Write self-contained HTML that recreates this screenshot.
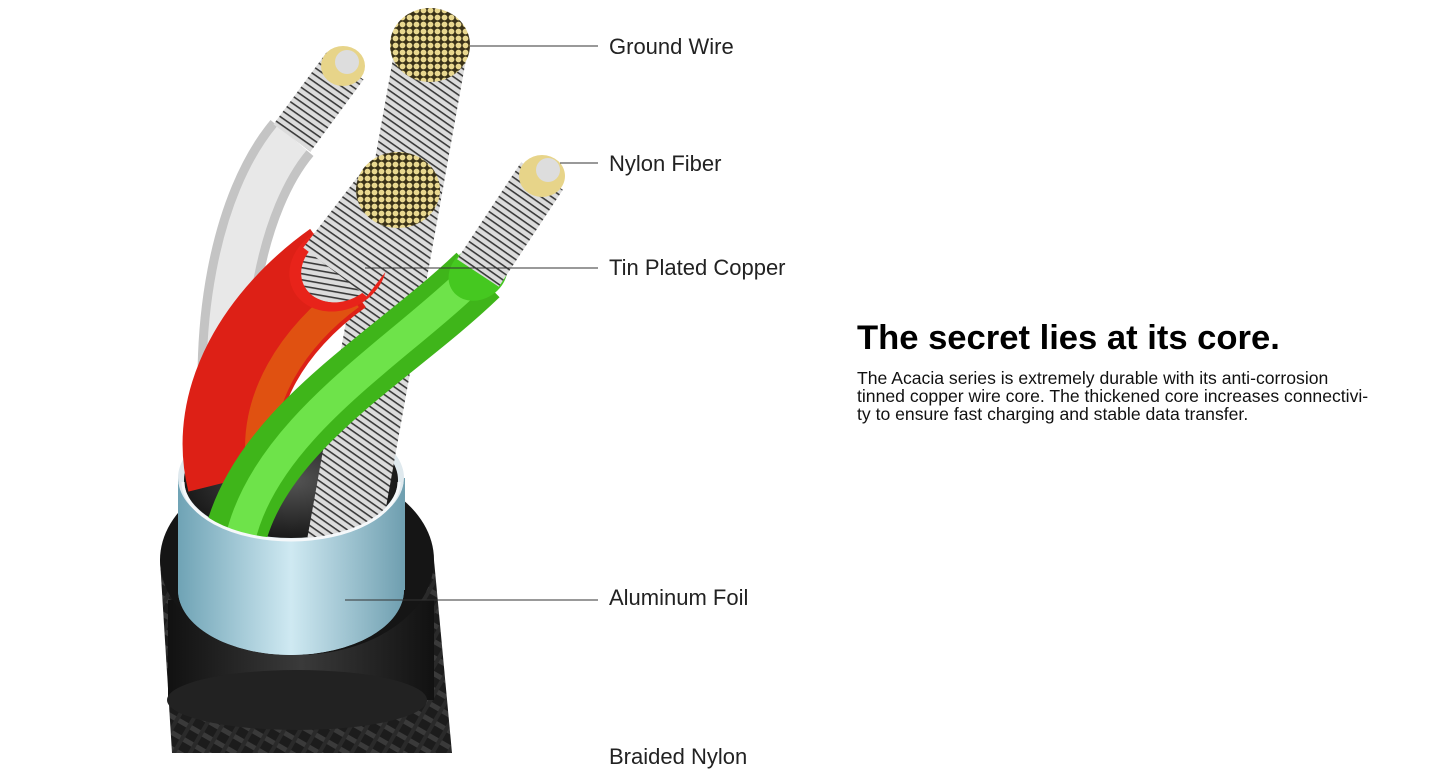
<!DOCTYPE html>
<html><head><meta charset="utf-8"><style>
html,body{margin:0;padding:0;background:#fff;}
body{width:1445px;height:753px;overflow:hidden;position:relative;font-family:"Liberation Sans",sans-serif;}
.lbl{position:absolute;left:609px;font-size:22px;color:#222;line-height:1;}
h1{position:absolute;left:857px;top:319px;margin:0;font-size:34.6px;font-weight:bold;color:#000;}
.p{position:absolute;left:857px;top:369px;font-size:17.6px;line-height:18px;color:#111;width:580px;white-space:nowrap;}
</style></head><body>
<svg width="1445" height="753" style="position:absolute;left:0;top:0">
<defs>
<pattern id="str" width="6" height="6" patternUnits="userSpaceOnUse" patternTransform="rotate(35)">
<rect width="6" height="6" fill="#dcdcdc"/><rect width="6" height="1.6" fill="#3a3a3a"/></pattern>
<pattern id="gold" width="7" height="7" patternUnits="userSpaceOnUse">
<rect width="7" height="7" fill="#3a3218"/><circle cx="3.5" cy="3.5" r="2.9" fill="#e9d88f"/></pattern>
<pattern id="braid" width="14" height="14" patternUnits="userSpaceOnUse" patternTransform="rotate(30)">
<rect width="14" height="14" fill="#1c1c1c"/><rect width="14" height="5" fill="#3a3a3a"/><rect width="4" height="14" x="7" fill="#2a2a2a"/></pattern>
<linearGradient id="foil" x1="0" x2="1"><stop offset="0" stop-color="#6fa3b5"/><stop offset="0.5" stop-color="#cfe9f2"/><stop offset="1" stop-color="#6f9fb0"/></linearGradient>
<linearGradient id="blk" x1="0" x2="1"><stop offset="0" stop-color="#111"/><stop offset="0.5" stop-color="#3a3a3a"/><stop offset="1" stop-color="#111"/></linearGradient>
<radialGradient id="inner"><stop offset="0" stop-color="#555"/><stop offset="1" stop-color="#1a1a1a"/></radialGradient>
</defs>
<path d="M160,560 L172,753 L452,753 L434,560 Z" fill="url(#braid)"/>
<rect x="168" y="600" width="266" height="100" fill="url(#blk)"/>
<ellipse cx="297" cy="700" rx="130" ry="30" fill="#222"/>
<ellipse cx="297" cy="560" rx="137" ry="95" fill="#151515"/>
<rect x="178" y="478" width="227" height="112" fill="url(#foil)"/>
<ellipse cx="291" cy="590" rx="113" ry="65" fill="url(#foil)"/>
<ellipse cx="291" cy="478" rx="113" ry="62" fill="#dfe9ee"/>
<ellipse cx="291" cy="480" rx="107" ry="58" fill="url(#inner)"/>
<!-- white wire -->
<path d="M232,470 C212,330 240,200 292,138" stroke="#c4c4c4" stroke-width="56" fill="none"/>
<path d="M232,470 C212,330 240,200 292,138" stroke="#e8e8e8" stroke-width="38" fill="none"/>
<path d="M292,138 L345,66" stroke="url(#str)" stroke-width="46" fill="none"/>
<ellipse cx="343" cy="66" rx="22" ry="20" fill="#e7d489"/><ellipse cx="347" cy="62" rx="12" ry="12" fill="#ddd"/>
<!-- ground wire -->
<path d="M340,560 L432,45" stroke="url(#str)" stroke-width="72" fill="none"/>
<ellipse cx="430" cy="45" rx="40" ry="37" fill="url(#gold)"/>
<!-- red wire -->
<path d="M235,480 C215,400 265,320 338,268" stroke="#dd2016" stroke-width="96" fill="none"/>
<path d="M262,470 C250,400 295,335 350,295" stroke="#e05a10" stroke-width="30" fill="none" opacity="0.85"/>
<ellipse cx="338" cy="268" rx="50" ry="42" transform="rotate(-25 338 268)" fill="#e8231a"/>
<ellipse cx="340" cy="268" rx="40" ry="33" transform="rotate(-25 340 268)" fill="url(#str)"/>
<path d="M335,272 L398,190" stroke="url(#str)" stroke-width="80" fill="none"/>
<ellipse cx="398" cy="190" rx="42" ry="38" fill="url(#gold)"/>
<!-- green wire -->
<path d="M232,550 C255,430 390,360 478,275" stroke="#3fb51a" stroke-width="62" fill="none"/>
<path d="M240,540 C265,430 392,355 470,280" stroke="#6ee34a" stroke-width="30" fill="none"/>
<ellipse cx="478" cy="273" rx="31" ry="26" transform="rotate(-35 478 273)" fill="#45c820"/>
<path d="M478,273 L542,176" stroke="url(#str)" stroke-width="50" fill="none"/>
<ellipse cx="542" cy="176" rx="23" ry="21" fill="#e7d489"/><ellipse cx="548" cy="170" rx="12" ry="12" fill="#ddd"/>
<!-- foil front -->
<path d="M178,478 A113,62 0 0 0 404,478 L404,590 A113,65 0 0 1 178,590 Z" fill="url(#foil)"/>
<path d="M183,482 A108,58 0 0 0 399,482" stroke="#f5f8fa" stroke-width="3" fill="none"/>
<g stroke="#333" stroke-width="1">
<line x1="470" y1="46" x2="598" y2="46"/>
<line x1="560" y1="163" x2="598" y2="163"/>
<line x1="365" y1="268" x2="598" y2="268"/>
<line x1="345" y1="600" x2="598" y2="600"/>
</g>
</svg>
<div class="lbl" style="top:36px">Ground Wire</div>
<div class="lbl" style="top:153px">Nylon Fiber</div>
<div class="lbl" style="top:257px">Tin Plated Copper</div>
<div class="lbl" style="top:587px">Aluminum Foil</div>
<div class="lbl" style="top:746px">Braided Nylon</div>
<h1>The secret lies at its core.</h1>
<div class="p">The Acacia series is extremely durable with its anti-corrosion<br>tinned copper wire core. The thickened core increases connectivi-<br>ty to ensure fast charging and stable data transfer.</div>
</body></html>
